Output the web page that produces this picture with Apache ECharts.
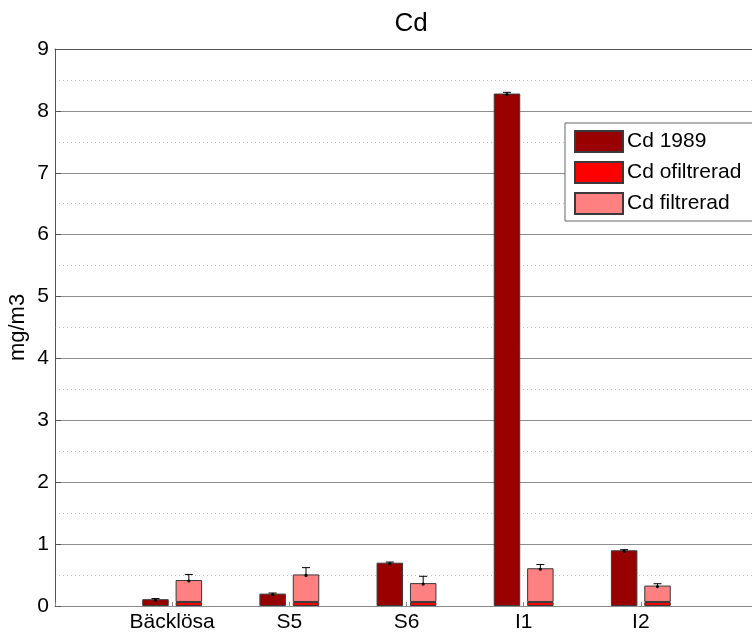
<!DOCTYPE html>
<html>
<head>
<meta charset="utf-8">
<script src="https://cdn.jsdelivr.net/npm/echarts@6/dist/echarts.min.js"></script>
<style>
  html, body { margin: 0; padding: 0; background: #fff; }
  #chart { width: 752px; height: 635px; }
</style>
</head>
<body>
<div id="chart"></div>
<script>
// Sampling sites
const sites = ['Bäcklösa', 'S5', 'S6', 'I1', 'I2'];

// Cd concentrations (mg/m3)
const cd1989 = [0.11, 0.20, 0.70, 8.28, 0.90];
const cd1989Err = [0.01, 0.01, 0.01, 0.02, 0.01];
// unfiltered part (bottom of the stacked bar)
const cdOfiltrerad = [0.065, 0.065, 0.065, 0.065, 0.065];
// filtered part (stacked on top)
const cdFiltrerad = [0.355, 0.445, 0.305, 0.545, 0.265];
const cdFiltreradErr = [0.09, 0.11, 0.11, 0.06, 0.03];

const yTicks = [0, 1, 2, 3, 4, 5, 6, 7, 8, 9];

// Axis runs from 0 to 6 with the sites sitting on 1..5
const axisCats = [''].concat(sites, ['']);
const pad = arr => [null].concat(arr, [null]);

const FONT = 'Liberation Sans, Arial, sans-serif';
const FS = 21;
const BAR_W = 0.226;      // fraction of band
const BAR_GAP = 0.26;     // fraction of bar width

// error bar items: [axis index, bar top, error, side (-1 = left bar, 1 = right bar)]
const errData = [];
sites.forEach((s, i) => {
  errData.push([i + 1, cd1989[i], cd1989Err[i], -1]);
  errData.push([i + 1, cdOfiltrerad[i] + cdFiltrerad[i], cdFiltreradErr[i], 1]);
});

const chart = echarts.init(document.getElementById('chart'), null, { renderer: 'canvas' });

const barEdge = { borderColor: '#3a3a3a', borderWidth: 1 };

chart.setOption({
  animation: false,
  backgroundColor: '#fff',
  textStyle: { fontFamily: FONT },
  title: {
    text: 'Cd',
    left: 406,
    textAlign: 'center',
    top: 6,
    textStyle: { fontFamily: FONT, fontSize: 26, fontWeight: 'normal', color: '#000' }
  },
  legend: {
    data: ['Cd 1989', 'Cd ofiltrerad', 'Cd filtrerad'],
    orient: 'vertical',
    left: 565,
    top: 123,
    padding: [7, 20, 6, 9],
    itemWidth: 48,
    itemHeight: 21,
    itemGap: 8,
    icon: 'rect',
    backgroundColor: '#fff',
    borderColor: '#666',
    borderWidth: 1,
    borderRadius: 0,
    textStyle: { fontFamily: FONT, fontSize: FS, color: '#000', padding: [0, 0, 0, -1] }
  },
  grid: { left: 55, top: 49, height: 557, width: 703, containLabel: false, outerBoundsMode: 'none' },
  xAxis: [{
    type: 'category',
    data: axisCats,
    boundaryGap: false,
    axisLine: { lineStyle: { color: '#8a8a8a', width: 1 } },
    axisTick: { show: true, inside: true, length: 4, lineStyle: { color: '#8a8a8a' } },
    axisLabel: { fontFamily: FONT, fontSize: FS, color: '#000', margin: 6, interval: 0 },
    splitLine: { show: false }
  }, {
    type: 'category',
    data: axisCats,
    boundaryGap: false,
    position: 'top',
    axisLine: { lineStyle: { color: '#555', width: 1 } },
    axisTick: { show: false },
    axisLabel: { show: false }
  }],
  yAxis: {
    type: 'value',
    min: 0,
    max: 9,
    interval: 1,
    name: 'mg/m3',
    nameLocation: 'middle',
    nameGap: 26,
    nameMoveOverlap: false,
    nameRotate: 90,
    nameTextStyle: { fontFamily: FONT, fontSize: 22, color: '#000' },
    axisLine: { show: true, lineStyle: { color: '#555', width: 1 } },
    axisTick: { show: true, inside: true, length: 6, lineStyle: { color: '#555' } },
    axisLabel: {
      fontFamily: FONT, fontSize: FS, color: '#000', margin: 6,
      formatter: v => (yTicks.indexOf(v) >= 0 ? String(v) : '')
    },
    splitLine: { show: true, lineStyle: { color: '#8f8f8f', width: 1 } },
    minorTick: { show: false, splitNumber: 2 },
    minorSplitLine: { show: true, lineStyle: { color: '#bdbdbd', type: [1, 3], width: 1 } }
  },
  series: [
    {
      name: 'Cd 1989',
      type: 'bar',
      data: pad(cd1989),
      barWidth: (BAR_W * 100) + '%',
      barGap: (BAR_GAP * 100) + '%',
      itemStyle: Object.assign({ color: '#990000' }, barEdge),
      z: 2
    },
    {
      name: 'Cd ofiltrerad',
      type: 'bar',
      stack: 'cd',
      data: pad(cdOfiltrerad),
      barWidth: (BAR_W * 100) + '%',
      barGap: (BAR_GAP * 100) + '%',
      itemStyle: Object.assign({ color: '#ff0000' }, barEdge),
      z: 2
    },
    {
      name: 'Cd filtrerad',
      type: 'bar',
      stack: 'cd',
      data: pad(cdFiltrerad),
      barWidth: (BAR_W * 100) + '%',
      barGap: (BAR_GAP * 100) + '%',
      itemStyle: Object.assign({ color: '#ff8080' }, barEdge),
      z: 2
    },
    {
      name: 'errors',
      type: 'custom',
      data: errData,
      z: 5,
      silent: true,
      renderItem: function (params, api) {
        const x = api.value(0), top = api.value(1), err = api.value(2), side = api.value(3);
        const band = api.size([1, 0])[0];
        const off = side * band * BAR_W * (1 + BAR_GAP) / 2;
        const p0 = api.coord([x, top]);
        const p1 = api.coord([x, top + err]);
        const cx = p0[0] + off;
        const style = { stroke: '#000', lineWidth: 1 };
        return {
          type: 'group',
          children: [
            { type: 'line', shape: { x1: cx, y1: p0[1], x2: cx, y2: p1[1] }, style: style },
            { type: 'line', shape: { x1: cx - 4, y1: p1[1], x2: cx + 4, y2: p1[1] }, style: style },
            { type: 'circle', shape: { cx: cx, cy: p0[1] + 1, r: 1.6 }, style: { fill: '#000' } }
          ]
        };
      }
    }
  ]
});
</script>
</body>
</html>
